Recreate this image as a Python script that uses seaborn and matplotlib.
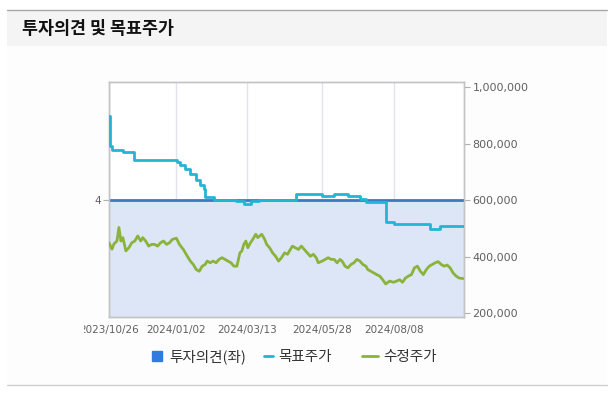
import pandas as pd
import matplotlib
matplotlib.use('Agg')
import matplotlib.pyplot as plt
import matplotlib.dates as mdates
from matplotlib.patches import Rectangle
from matplotlib.lines import Line2D
from matplotlib.ticker import FuncFormatter
import seaborn as sns

# 수정주가 (adjusted price)
price_dates = [
    "2023-10-26", "2023-10-29", "2023-10-31", "2023-11-03", "2023-11-05", "2023-11-07",
    "2023-11-09", "2023-11-12", "2023-11-15", "2023-11-18", "2023-11-21", "2023-11-24",
    "2023-11-27", "2023-11-29", "2023-12-02", "2023-12-05", "2023-12-08", "2023-12-11",
    "2023-12-14", "2023-12-17", "2023-12-20", "2023-12-23", "2023-12-26", "2023-12-29",
    "2024-01-02", "2024-01-05", "2024-01-09", "2024-01-13", "2024-01-16", "2024-01-19",
    "2024-01-22", "2024-01-25", "2024-01-28", "2024-01-31", "2024-02-02", "2024-02-05",
    "2024-02-08", "2024-02-11", "2024-02-14", "2024-02-17", "2024-02-20", "2024-02-23",
    "2024-02-26", "2024-02-29", "2024-03-03", "2024-03-06", "2024-03-08", "2024-03-10",
    "2024-03-12", "2024-03-14", "2024-03-16", "2024-03-19", "2024-03-22", "2024-03-24",
    "2024-03-28", "2024-03-31", "2024-04-02", "2024-04-05", "2024-04-08", "2024-04-11",
    "2024-04-14", "2024-04-17", "2024-04-20", "2024-04-23", "2024-04-25", "2024-04-28",
    "2024-05-01", "2024-05-04", "2024-05-07", "2024-05-10", "2024-05-13", "2024-05-16",
    "2024-05-19", "2024-05-22", "2024-05-24", "2024-05-28", "2024-05-31", "2024-06-03",
    "2024-06-06", "2024-06-09", "2024-06-12", "2024-06-15", "2024-06-17", "2024-06-20",
    "2024-06-23", "2024-06-26", "2024-06-29", "2024-07-02", "2024-07-05", "2024-07-08",
    "2024-07-11", "2024-07-13", "2024-07-16", "2024-07-19", "2024-07-22", "2024-07-25",
    "2024-07-28", "2024-07-31", "2024-08-04", "2024-08-08", "2024-08-11", "2024-08-14",
    "2024-08-17", "2024-08-20", "2024-08-23", "2024-08-26", "2024-08-29", "2024-09-01",
    "2024-09-04", "2024-09-07", "2024-09-10", "2024-09-13", "2024-09-16", "2024-09-19",
    "2024-09-22", "2024-09-25", "2024-09-28", "2024-10-01", "2024-10-04", "2024-10-07",
    "2024-10-10", "2024-10-13", "2024-10-17",
]
price_values = [
    449000, 426000, 445000, 455000, 503000, 455000,
    467000, 420000, 431000, 449000, 455000, 473000,
    455000, 467000, 455000, 437000, 443000, 443000,
    437000, 449000, 455000, 443000, 449000, 461000,
    465000, 443000, 425000, 401000, 384000, 372000,
    354000, 348000, 366000, 372000, 384000, 378000,
    384000, 378000, 390000, 396000, 390000, 384000,
    378000, 366000, 366000, 413000, 420000, 443000,
    455000, 431000, 445000, 461000, 479000, 467000,
    479000, 461000, 443000, 431000, 413000, 401000,
    384000, 396000, 413000, 408000, 420000, 437000,
    431000, 425000, 437000, 425000, 413000, 401000,
    408000, 396000, 378000, 384000, 390000, 396000,
    390000, 390000, 378000, 390000, 384000, 366000,
    360000, 372000, 378000, 390000, 384000, 372000,
    366000, 354000, 348000, 342000, 336000, 331000,
    318000, 303000, 313000, 309000, 313000, 318000,
    309000, 324000, 331000, 336000, 360000, 366000,
    348000, 336000, 354000, 366000, 372000, 378000,
    382000, 372000, 366000, 370000, 360000, 342000,
    331000, 324000, 322000,
]

# 목표주가 (target price)
target_dates = [
    "2023-10-26", "2023-10-27", "2023-10-29", "2023-11-09", "2023-11-20", "2024-01-03",
    "2024-01-06", "2024-01-11", "2024-01-16", "2024-01-22", "2024-01-26", "2024-01-30",
    "2024-01-31", "2024-02-09", "2024-03-02", "2024-03-10", "2024-03-17", "2024-03-25",
    "2024-05-02", "2024-05-28", "2024-06-09", "2024-06-23", "2024-07-05", "2024-07-11",
    "2024-07-31", "2024-08-08", "2024-09-14", "2024-09-24", "2024-10-18",
]
target_values = [
    896000, 790000, 778000, 770000, 743000, 733000,
    723000, 711000, 693000, 670000, 652000, 640000,
    612000, 600000, 596000, 587000, 595000, 600000,
    620000, 614000, 620000, 614000, 605000, 592000,
    521000, 515000, 497000, 509000, 509000,
]

# 투자의견 (opinion, left axis)
opinion_dates = ["2023-10-26", "2024-10-18"]
opinion_values = [4, 4]

tick_dates = ["2023-10-26", "2024-01-02", "2024-03-13", "2024-05-28", "2024-08-08"]
right_ticks = [200000, 400000, 600000, 800000, 1000000]
legend_labels = ["투자의견(좌)", "목표주가", "수정주가"]
title = "투자의견 및 목표주가"

price = pd.DataFrame({"date": pd.to_datetime(price_dates), "value": price_values})
target = pd.DataFrame({"date": pd.to_datetime(target_dates), "value": target_values})
opinion = pd.DataFrame({"date": pd.to_datetime(opinion_dates), "value": opinion_values})

sns.set_style("white")
plt.rcParams['font.family'] = ['Noto Sans CJK KR', 'DejaVu Sans']

W, H = 610, 393
BODY = "#fdfdfd"
fig = plt.figure(figsize=(W / 100, H / 100), dpi=100, facecolor="white")

# card background / header
fig.patches.append(Rectangle((7 / W, 1 - 385 / H), 600 / W, 375 / H, transform=fig.transFigure,
                             facecolor=BODY, edgecolor="none", zorder=-3))
fig.patches.append(Rectangle((7 / W, 1 - 46 / H), 600 / W, 36 / H, transform=fig.transFigure,
                             facecolor="#f4f4f4", edgecolor="none", zorder=-2))
fig.add_artist(Line2D([7 / W, 607 / W], [1 - 9.5 / H, 1 - 9.5 / H], transform=fig.transFigure,
                      color="#a8a8a8", lw=1.0))
fig.add_artist(Line2D([7 / W, 607 / W], [1 - 384.5 / H, 1 - 384.5 / H], transform=fig.transFigure,
                      color="#d0d0d0", lw=1.0))
fig.text(22 / W, 1 - 29 / H, title, fontsize=12.5, fontweight="bold", color="#111111", va="center")

ax_l = fig.add_axes([109 / W, 1 - 317 / H, (464 - 109) / W, (317 - 82) / H])
ax_r = ax_l.twinx()

y_lo, y_hi = 186000, 1018000
frac = (600000 - y_lo) / (y_hi - y_lo)

# opinion line + shaded area
ax_l.fill_between(opinion["date"], 0, opinion["value"], color="#dce6f6", lw=0, zorder=1)
sns.lineplot(data=opinion, x="date", y="value", ax=ax_l, color="#3a78c8", lw=2, zorder=3)
ax_l.set_ylim(0, 4 / frac)
ax_l.set_yticks([4])
ax_l.set_yticklabels(["4"])

sns.lineplot(data=target, x="date", y="value", ax=ax_r, color="#22b5d4", lw=2,
             drawstyle="steps-post", zorder=4)
sns.lineplot(data=price, x="date", y="value", ax=ax_r, color="#8bb33c", lw=2, zorder=5)
ax_r.set_ylim(y_lo, y_hi)
ax_r.set_yticks(right_ticks)
ax_r.yaxis.set_major_formatter(FuncFormatter(lambda v, p: f"{int(v):,}"))

ax_l.set_xlim(pd.Timestamp("2023-10-26"), pd.Timestamp("2024-10-18"))
ax_l.set_xticks(pd.to_datetime(tick_dates))
ax_l.xaxis.set_major_formatter(mdates.DateFormatter("%Y/%m/%d"))
ax_l.grid(axis="x", color="#e1e5eb", lw=1)
ax_l.set_axisbelow(True)

for a in (ax_l, ax_r):
    a.set_xlabel("")
    a.set_ylabel("")
    for s in a.spines.values():
        s.set_color("#c4c4c4")
        s.set_linewidth(1)
    a.tick_params(axis="both", which="major", length=4, width=0.8, color="#b0b0b0",
                  labelcolor="#606060", labelsize=7.5, pad=2)
    for lab in a.get_xticklabels() + a.get_yticklabels():
        lab.set_family("DejaVu Sans")
ax_r.tick_params(axis="y", labelsize=8)

# the chart container cuts off the first date label on the left
fig.add_artist(Rectangle((7 / W, 1 - 340 / H), 77 / W, 20 / H, transform=fig.transFigure,
                         facecolor=BODY, edgecolor="none", zorder=10))

handles = [
    Line2D([], [], marker="s", ls="none", color="#2f7be0", markersize=7),
    Line2D([], [], color="#22b5d4", lw=2),
    Line2D([], [], color="#8bb33c", lw=2),
]
legend_x = [150, 264, 362]
legend_hl = [1.0, 0.6, 1.1]
for h, lab, x, hl in zip(handles, legend_labels, legend_x, legend_hl):
    leg = fig.legend([h], [lab], loc="center left", bbox_to_anchor=(x / W, 1 - 357 / H),
                     frameon=False, fontsize=10.5, handlelength=hl, handletextpad=0.35,
                     borderpad=0, borderaxespad=0, labelcolor="#333333")

fig.savefig("out.png", dpi=100, facecolor="white")
